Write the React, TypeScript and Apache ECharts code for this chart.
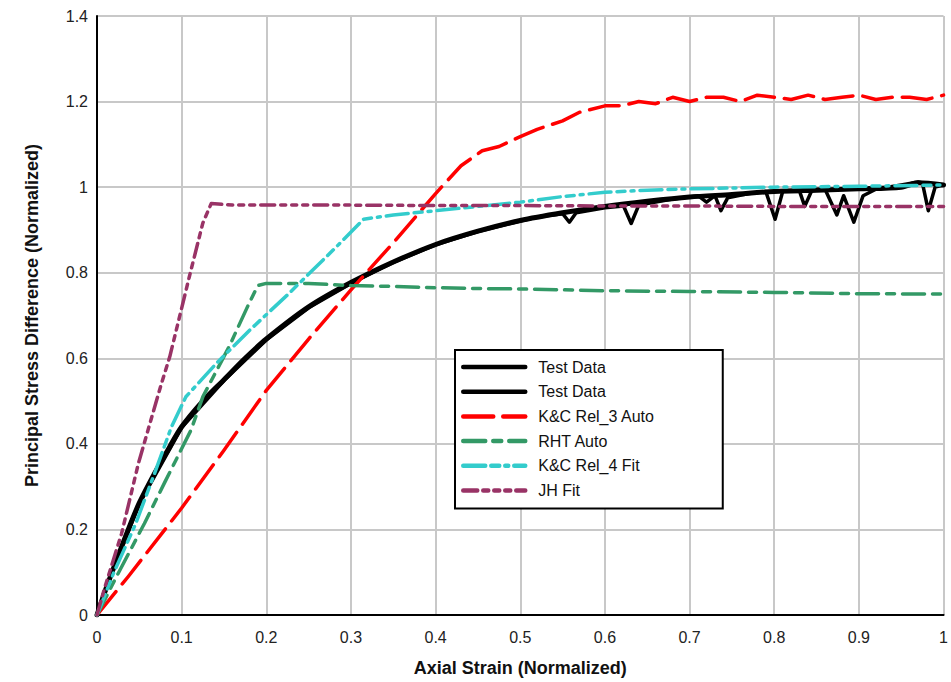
import React, { useEffect, useRef } from "react";
import * as echarts from "echarts";

// Test data (smooth)
const testData1: [number, number][] = [
  [0, 0], [0.01, 0.058], [0.02, 0.112], [0.037, 0.2], [0.05, 0.262], [0.068, 0.331],
  [0.085, 0.39], [0.1, 0.44], [0.125, 0.5], [0.15, 0.55], [0.175, 0.6], [0.2, 0.645],
  [0.25, 0.72], [0.3, 0.777], [0.35, 0.825], [0.4, 0.866], [0.45, 0.897], [0.5, 0.922],
  [0.55, 0.94], [0.6, 0.955], [0.65, 0.967], [0.7, 0.977], [0.75, 0.983], [0.8, 0.99],
  [0.85, 0.993], [0.9, 0.996], [0.95, 1.0], [0.97, 1.01], [1.0, 1.005],
];

// Test data (noisy)
const testData2: [number, number][] = [
  [0, 0], [0.02, 0.11], [0.05, 0.26], [0.1, 0.438], [0.15, 0.548], [0.2, 0.643],
  [0.25, 0.718], [0.3, 0.775], [0.35, 0.824], [0.4, 0.865], [0.45, 0.896], [0.5, 0.921],
  [0.52, 0.93], [0.55, 0.938], [0.558, 0.918], [0.566, 0.94], [0.6, 0.952], [0.622, 0.956],
  [0.631, 0.915], [0.64, 0.958], [0.68, 0.972], [0.71, 0.98], [0.72, 0.965], [0.73, 0.98],
  [0.737, 0.945], [0.745, 0.975], [0.77, 0.985], [0.79, 0.99], [0.801, 0.925], [0.81, 0.99],
  [0.83, 0.99], [0.836, 0.955], [0.845, 0.995], [0.86, 0.995], [0.874, 0.935], [0.882, 0.98],
  [0.894, 0.918], [0.905, 0.98], [0.92, 0.995], [0.95, 1.005], [0.97, 1.012], [0.975, 1.01],
  [0.982, 0.945], [0.99, 1.0], [1.0, 1.005],
];

// K&C Rel_3 Auto
const kcRel3: [number, number][] = [
  [0, 0], [0.037, 0.09], [0.1, 0.25], [0.15, 0.385], [0.2, 0.525], [0.25, 0.645],
  [0.3, 0.76], [0.35, 0.87], [0.4, 0.985], [0.43, 1.05], [0.455, 1.085], [0.475, 1.095],
  [0.5, 1.118], [0.52, 1.135], [0.55, 1.155], [0.57, 1.175], [0.6, 1.19], [0.62, 1.19],
  [0.64, 1.2], [0.66, 1.195], [0.68, 1.21], [0.7, 1.2], [0.72, 1.21], [0.74, 1.21],
  [0.76, 1.2], [0.78, 1.215], [0.8, 1.21], [0.82, 1.205], [0.84, 1.215], [0.86, 1.205],
  [0.88, 1.21], [0.9, 1.215], [0.92, 1.205], [0.94, 1.21], [0.96, 1.21], [0.98, 1.205],
  [1.0, 1.215],
];

// RHT Auto
const rhtAuto: [number, number][] = [
  [0, 0], [0.021, 0.082], [0.056, 0.214], [0.08, 0.31], [0.111, 0.432], [0.125, 0.51],
  [0.156, 0.627], [0.18, 0.73], [0.19, 0.77], [0.2, 0.775], [0.25, 0.775], [0.3, 0.77],
  [0.35, 0.768], [0.4, 0.765], [0.45, 0.763], [0.5, 0.762], [0.55, 0.76], [0.6, 0.758],
  [0.7, 0.756], [0.8, 0.754], [0.9, 0.751], [1.0, 0.75],
];

// K&C Rel_4 Fit
const kcRel4: [number, number][] = [
  [0, 0], [0.02, 0.1], [0.045, 0.21], [0.068, 0.331], [0.088, 0.44], [0.105, 0.51],
  [0.141, 0.588], [0.18, 0.665], [0.227, 0.752], [0.28, 0.855], [0.315, 0.925],
  [0.35, 0.935], [0.4, 0.945], [0.45, 0.955], [0.5, 0.965], [0.55, 0.978], [0.6, 0.988],
  [0.65, 0.993], [0.7, 0.996], [0.8, 1.0], [0.9, 1.002], [1.0, 1.005],
];

// JH Fit
const jhFit: [number, number][] = [
  [0, 0], [0.0094, 0.066], [0.029, 0.19], [0.049, 0.355], [0.076, 0.54], [0.086, 0.604],
  [0.109, 0.79], [0.125, 0.916], [0.135, 0.962], [0.16, 0.958], [0.2, 0.958], [0.3, 0.958],
  [0.4, 0.957], [0.5, 0.957], [0.6, 0.956], [0.7, 0.956], [0.8, 0.955], [0.9, 0.955],
  [1.0, 0.955],
];

const FONT = "'Liberation Sans', Arial, sans-serif";

export default function App() {
  const ref = useRef<HTMLDivElement>(null);

  useEffect(() => {
    if (!ref.current) return;
    const chart = echarts.init(ref.current, null, { renderer: "svg" });
    const fmt = (v: number) => String(+Number(v).toFixed(1));
    const mk = (name: string, data: [number, number][], color: string, width: number, type: any, smooth = false) => ({
      name,
      type: "line",
      data,
      symbol: "none",
      showSymbol: false,
      smooth: smooth ? 0.3 : false,
      lineStyle: { color, width, type, cap: "round", join: "round" },
      itemStyle: { color },
      z: 3,
    });
    chart.setOption({
      animation: false,
      backgroundColor: "#ffffff",
      textStyle: { fontFamily: FONT },
      grid: { left: 97, right: 4, top: 16, bottom: 67, containLabel: false },
      xAxis: {
        type: "value",
        min: 0,
        max: 1,
        interval: 0.1,
        name: "Axial Strain (Normalized)",
        nameLocation: "middle",
        nameGap: 44,
        nameTextStyle: { fontFamily: FONT, fontSize: 18, fontWeight: "bold", color: "#111" },
        axisLine: { show: true, onZero: false, lineStyle: { color: "#000", width: 2 } },
        axisTick: { show: false },
        axisLabel: { fontFamily: FONT, fontSize: 16, color: "#222", margin: 14, formatter: fmt },
        splitLine: { show: true, lineStyle: { color: "#c8c8c8", width: 2 } },
      },
      yAxis: {
        type: "value",
        min: 0,
        max: 1.4,
        interval: 0.2,
        name: "Principal Stress Difference (Normalized)",
        nameLocation: "middle",
        nameGap: 56,
        nameTextStyle: { fontFamily: FONT, fontSize: 18, fontWeight: "bold", color: "#111" },
        axisLine: { show: true, onZero: false, lineStyle: { color: "#000", width: 2 } },
        axisTick: { show: false },
        axisLabel: { fontFamily: FONT, fontSize: 16, color: "#222", margin: 9, formatter: fmt },
        splitLine: { show: true, lineStyle: { color: "#c8c8c8", width: 2 } },
      },
      legend: {
        orient: "vertical",
        left: 455,
        top: 350,
        padding: [9, 68, 10, 6],
        itemGap: 8.7,
        itemWidth: 62,
        itemHeight: 16,
        backgroundColor: "#ffffff",
        borderColor: "#000",
        borderWidth: 2,
        borderRadius: 0,
        itemStyle: { opacity: 0 },
        lineStyle: { width: 4.5 },
        textStyle: { fontFamily: FONT, fontSize: 16, color: "#111", padding: [0, 0, 0, 8] },
        formatter: (n: string) => n.trim(),
        data: ["Test Data", "Test Data ", "K&C Rel_3 Auto", "RHT Auto", "K&C Rel_4 Fit", "JH Fit"],
      },
      series: [
        mk("Test Data", testData1, "#000000", 5, "solid", true),
        mk("Test Data ", testData2, "#000000", 3.5, "solid"),
        mk("K&C Rel_3 Auto", kcRel3, "#ff0000", 3.5, [30, 10]),
        mk("RHT Auto", rhtAuto, "#339966", 3.5, [22, 8, 8, 8]),
        mk("K&C Rel_4 Fit", kcRel4, "#33cccc", 3.5, [22, 6, 8, 6, 3, 6]),
        mk("JH Fit", jhFit, "#993366", 3.5, [14, 6, 5, 6, 5, 6, 5, 6]),
      ],
    });
    return () => chart.dispose();
  }, []);

  return <div ref={ref} style={{ width: 951, height: 682, position: "absolute", left: 0, top: 0 }} />;
}
